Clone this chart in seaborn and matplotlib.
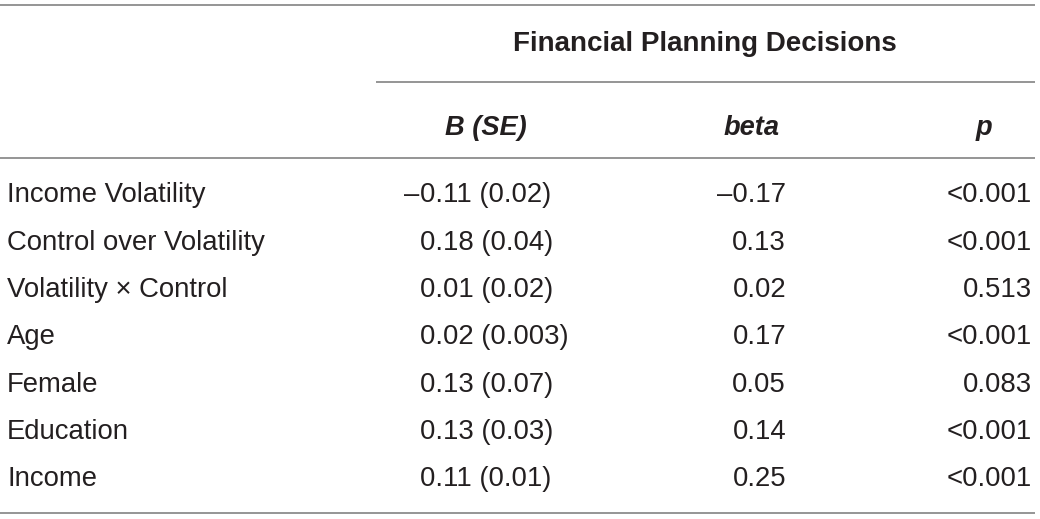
import matplotlib
matplotlib.use("Agg")
import matplotlib.pyplot as plt
import seaborn as sns

# table content
group_title = "Financial Planning Decisions"
col_heads = ["B (SE)", "beta", "p"]
predictors = ["Income Volatility", "Control over Volatility", "Volatility \u00d7 Control",
              "Age", "Female", "Education", "Income"]
b_se = ["\u20130.11 (0.02)", "0.18 (0.04)", "0.01 (0.02)", "0.02 (0.003)",
        "0.13 (0.07)", "0.13 (0.03)", "0.11 (0.01)"]
beta = ["\u20130.17", "0.13", "0.02", "0.17", "0.05", "0.14", "0.25"]
p_vals = ["<0.001", "<0.001", "0.513", "<0.001", "0.083", "<0.001", "<0.001"]

sns.set_theme(style="white")
plt.rcParams['font.family'] = ['Liberation Sans', 'DejaVu Sans']

W, H = 1040, 519
fig = plt.figure(figsize=(W / 100, H / 100), dpi=100)
ax = fig.add_axes([0, 0, 1, 1])
ax.set_xlim(0, W)
ax.set_ylim(H, 0)
ax.axis('off')

txt = '#231f20'
rule = '#8c8c8c'
fs = 19.8

# rules
ax.hlines(5, 0, 1035, color=rule, lw=1.3)
ax.hlines(82, 376, 1035, color=rule, lw=1.3)
ax.hlines(158, 0, 1035, color=rule, lw=1.3)
ax.hlines(513, 0, 1035, color=rule, lw=1.3)

# headers
ax.text(705, 44, group_title, ha='center', va='center', fontsize=20,
        fontweight='bold', color=txt)
head_x = [486, 752, 984]
for x, h in zip(head_x, col_heads):
    ax.text(x, 128, h, ha='center', va='center', fontsize=19.6,
            fontweight='bold', style='italic', color=txt)

# body rows
row_y0, row_dy = 195.5, 47.3
for i, (name, b, bt, p) in enumerate(zip(predictors, b_se, beta, p_vals)):
    y = row_y0 + i * row_dy
    ax.text(7, y, name, ha='left', va='center', fontsize=fs, color=txt)
    if b.startswith("\u2013"):
        ax.text(419, y, "\u2013", ha='right', va='center', fontsize=fs, color=txt)
        ax.text(420, y, b[1:], ha='left', va='center', fontsize=fs, color=txt)
    else:
        ax.text(420, y, b, ha='left', va='center', fontsize=fs, color=txt)
    ax.text(786, y, bt, ha='right', va='center', fontsize=fs, color=txt)
    ax.text(1032, y, p, ha='right', va='center', fontsize=fs, color=txt)

fig.savefig("out.png", dpi=100, facecolor='white')
